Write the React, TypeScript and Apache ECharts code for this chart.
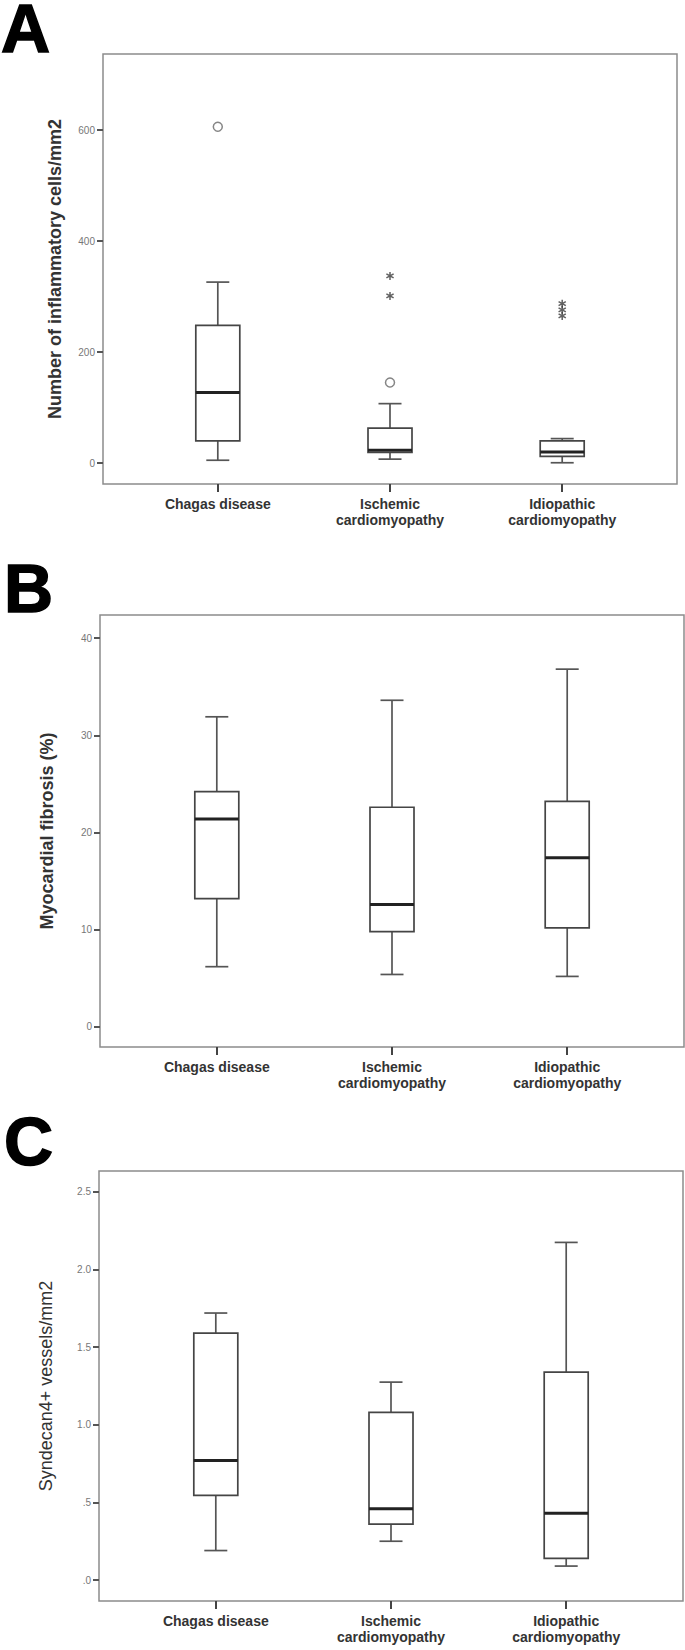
import React, { useEffect, useRef } from "react";
import * as echarts from "echarts";

// ---------- data ----------
const categories = ["Chagas disease", "Ischemic\ncardiomyopathy", "Idiopathic\ncardiomyopathy"];

// [min, Q1, median, Q3, max]
const inflammatoryBoxes = [
  [5, 40, 127, 248, 326],
  [7, 19, 23, 63, 107],
  [0.5, 12, 20, 40, 44],
];
const inflammatoryCircles = [
  [0, 606],
  [1, 145],
];
const inflammatoryStars = [
  [1, 337],
  [1, 301],
  [2, 287],
  [2, 276],
  [2, 265],
];

const fibrosisBoxes = [
  [6.2, 13.2, 21.4, 24.2, 31.9],
  [5.4, 9.8, 12.6, 22.6, 33.6],
  [5.2, 10.2, 17.4, 23.2, 36.8],
];

const syndecanBoxes = [
  [0.19, 0.545, 0.77, 1.59, 1.72],
  [0.25, 0.36, 0.46, 1.08, 1.275],
  [0.09, 0.14, 0.43, 1.34, 2.175],
];

const inflammatoryTicks = [0, 200, 400, 600];
const fibrosisTicks = [0, 10, 20, 30, 40];
const syndecanTicks = [0, 0.5, 1, 1.5, 2, 2.5];

const categoryPositions = [0, 1, 2];

// ---------- layout ----------
const panels = [
  {
    letter: "A",
    boxes: inflammatoryBoxes,
    circles: inflammatoryCircles,
    stars: inflammatoryStars,
    ticks: inflammatoryTicks,
    fmt: (v: number) => String(v),
    name: "Number of inflammatory cells/mm2",
    nameWeight: "bold",
    nameGap: 39,
    grid: { left: 103, top: 54, width: 574, height: 430 },
    yMin: -37.8,
    yMax: 737,
    letterPos: { x: 1, y: 0 },
  },
  {
    letter: "B",
    boxes: fibrosisBoxes,
    circles: [] as number[][],
    stars: [] as number[][],
    ticks: fibrosisTicks,
    fmt: (v: number) => String(v),
    name: "Myocardial fibrosis (%)",
    nameWeight: "bold",
    nameGap: 44,
    grid: { left: 100, top: 615, width: 584, height: 432 },
    yMin: -2.06,
    yMax: 42.37,
    letterPos: { x: 4, y: 560 },
  },
  {
    letter: "C",
    boxes: syndecanBoxes,
    circles: [] as number[][],
    stars: [] as number[][],
    ticks: syndecanTicks,
    fmt: (v: number) => (v === 0 ? ".0" : v < 1 ? "." + Math.round(v * 10) : v.toFixed(1)),
    name: "Syndecan4+ vessels/mm2",
    nameWeight: "normal",
    nameGap: 44,
    grid: { left: 99, top: 1171, width: 584, height: 430 },
    yMin: -0.135,
    yMax: 2.635,
    letterPos: { x: 4, y: 1113 },
  },
];

const STAR =
  "path://M4.1 0L5.9 0L5.9 10L4.1 10Z M1.12 1.72L9.78 6.72L8.88 8.28L0.22 3.28Z M9.78 3.28L1.12 8.28L0.22 6.72L8.88 1.72Z";

const FONT = "Liberation Sans";

function renderBox(params: any, api: any) {
  const x = api.value(0);
  const pMin = api.coord([x, api.value(1)]);
  const pQ1 = api.coord([x, api.value(2)]);
  const pMed = api.coord([x, api.value(3)]);
  const pQ3 = api.coord([x, api.value(4)]);
  const pMax = api.coord([x, api.value(5)]);
  const cx = pMin[0];
  const hw = 22;
  const cw = 11.5;
  const line = { stroke: "#555", lineWidth: 1.7 };
  return {
    type: "group",
    children: [
      { type: "line", shape: { x1: cx, y1: pMax[1], x2: cx, y2: pQ3[1] }, style: line },
      { type: "line", shape: { x1: cx, y1: pQ1[1], x2: cx, y2: pMin[1] }, style: line },
      { type: "line", shape: { x1: cx - cw, y1: pMax[1], x2: cx + cw, y2: pMax[1] }, style: line },
      { type: "line", shape: { x1: cx - cw, y1: pMin[1], x2: cx + cw, y2: pMin[1] }, style: line },
      {
        type: "rect",
        shape: { x: cx - hw, y: pQ3[1], width: hw * 2, height: pQ1[1] - pQ3[1] },
        style: { fill: "#fff", stroke: "#454545", lineWidth: 1.7 },
      },
      {
        type: "line",
        shape: { x1: cx - hw, y1: pMed[1], x2: cx + hw, y2: pMed[1] },
        style: { stroke: "#222", lineWidth: 3 },
      },
    ],
  };
}

export default function App() {
  const ref = useRef<HTMLDivElement>(null);
  useEffect(() => {
    if (!ref.current) return;
    const chart = echarts.init(ref.current, undefined, { renderer: "svg" });

    const series: any[] = [];
    panels.forEach((p, i) => {
      series.push({
        type: "custom",
        xAxisIndex: i,
        yAxisIndex: i,
        renderItem: renderBox,
        encode: { x: 0, y: [1, 2, 3, 4, 5] },
        data: p.boxes.map((b, k) => [categoryPositions[k], ...b]),
        z: 2,
      });
      if (p.circles.length) {
        series.push({
          type: "scatter",
          xAxisIndex: i,
          yAxisIndex: i,
          symbol: "circle",
          symbolSize: 9,
          itemStyle: { color: "#fff", borderColor: "#666", borderWidth: 1.5 },
          data: p.circles,
          z: 3,
        });
      }
      if (p.stars.length) {
        series.push({
          type: "scatter",
          xAxisIndex: i,
          yAxisIndex: i,
          symbol: STAR,
          symbolSize: 8,
          itemStyle: { color: "#3a3a3a" },
          data: p.stars,
          z: 3,
        });
      }
    });

    chart.setOption({
      animation: false,
      backgroundColor: "#fff",
      grid: panels.map((p) => ({
        ...p.grid,
        show: true,
        borderColor: "#8c8c8c",
        borderWidth: 1.5,
        backgroundColor: "transparent",
        containLabel: false,
      })),
      xAxis: panels.map((p, i) => ({
        gridIndex: i,
        type: "value",
        min: -2 / 3,
        max: 8 / 3,
        position: "bottom",
        axisLine: { show: false, onZero: false },
        splitLine: { show: false },
        axisTick: {
          show: true,
          customValues: categoryPositions,
          length: 8,
          lineStyle: { color: "#444", width: 2 },
        },
        axisLabel: {
          customValues: categoryPositions,
          formatter: (v: number) => categories[Math.round(v)],
          margin: 12,
          fontSize: 14,
          fontWeight: "bold",
          color: "#333",
          fontFamily: FONT,
          lineHeight: 16,
        },
      })),
      yAxis: panels.map((p, i) => ({
        gridIndex: i,
        type: "value",
        min: p.yMin,
        max: p.yMax,
        position: "left",
        name: p.name,
        nameLocation: "middle",
        nameGap: p.nameGap,
        nameTextStyle: { fontSize: 18, fontWeight: p.nameWeight, color: "#333", fontFamily: FONT },
        axisLine: { show: false, onZero: false },
        splitLine: { show: false },
        axisTick: { show: true, customValues: p.ticks, length: 6, lineStyle: { color: "#555", width: 2 } },
        axisLabel: {
          customValues: p.ticks,
          formatter: p.fmt,
          fontSize: 10,
          color: "#777",
          margin: 8,
          fontFamily: FONT,
        },
      })),
      graphic: panels.map((p) => ({
        type: "text",
        x: p.letterPos.x,
        y: p.letterPos.y,
        style: {
          text: p.letter,
          fontSize: 68,
          lineHeight: 56,
          fontWeight: "bold",
          fontFamily: FONT,
          fill: "#000",
          stroke: "#000",
          lineWidth: 1.5,
          textVerticalAlign: "top",
          textAlign: "left",
        },
      })),
      series,
    });
    return () => chart.dispose();
  }, []);
  return (
    <div
      ref={ref}
      style={{ position: "absolute", left: 0, top: 0, width: 685, height: 1650 }}
    />
  );
}
